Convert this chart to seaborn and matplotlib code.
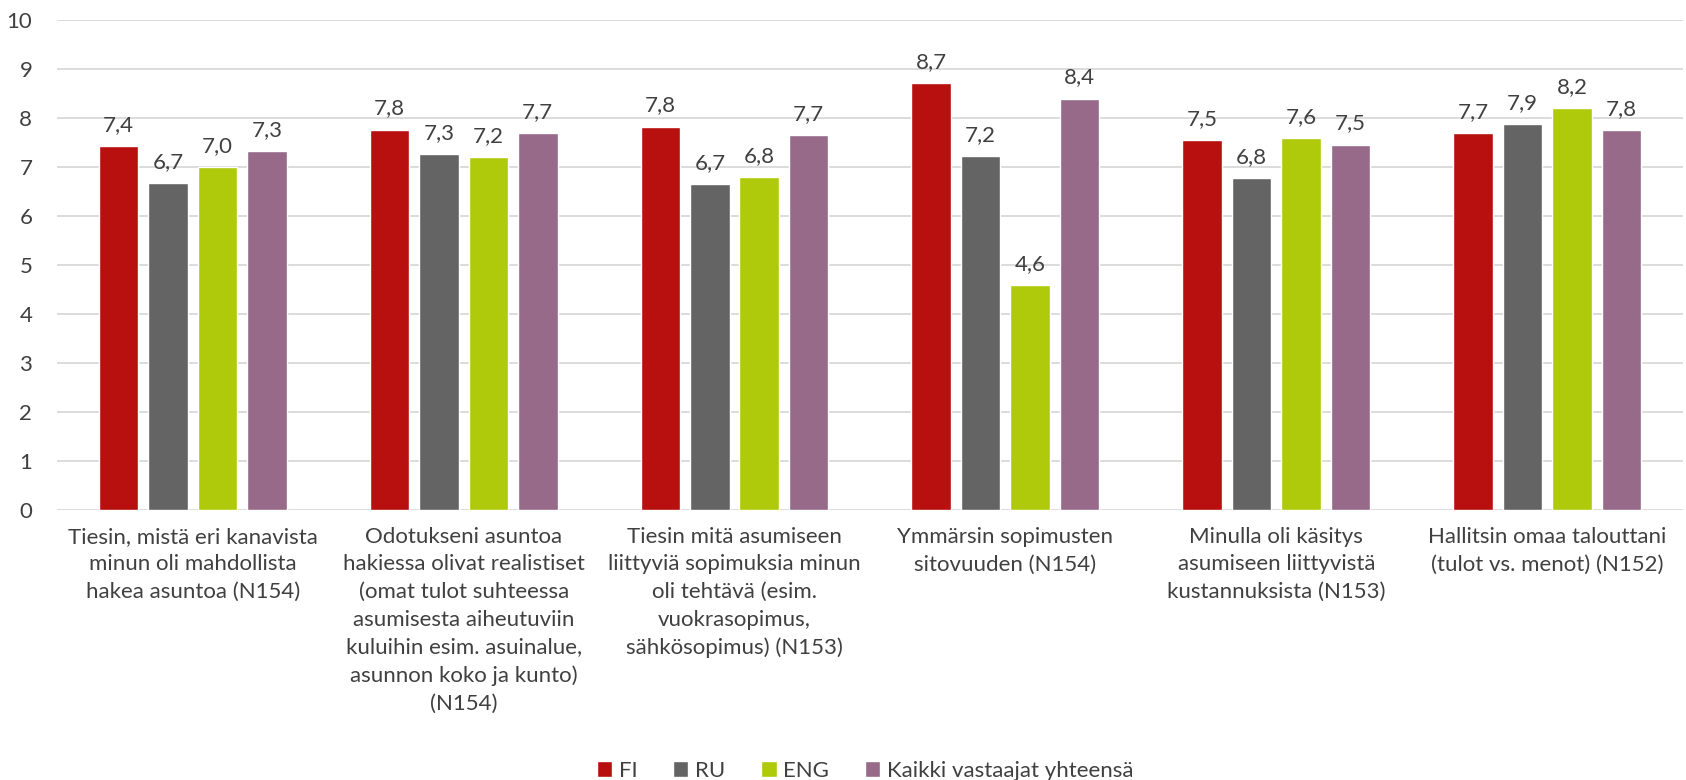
import seaborn as sns
import matplotlib.pyplot as plt
import pandas as pd

# Data
categories = [
    "Tiesin, mistä eri kanavista\nminun oli mahdollista\nhakea asuntoa (N154)",
    "Odotukseni asuntoa\nhakiessa olivat realistiset\n(omat tulot suhteessa\nasumisesta aiheutuviin\nkuluihin esim. asuinalue,\nasunnon koko ja kunto)\n(N154)",
    "Tiesin mitä asumiseen\nliittyviä sopimuksia minun\noli tehtävä (esim.\nvuokrasopimus,\nsähkösopimus) (N153)",
    "Ymmärsin sopimusten\nsitovuuden (N154)",
    "Minulla oli käsitys\nasumiseen liittyvistä\nkustannuksista (N153)",
    "Hallitsin omaa talouttani\n(tulot vs. menot) (N152)",
]
series = ["FI", "RU", "ENG", "Kaikki vastaajat yhteensä"]
fi = [7.43, 7.77, 7.83, 8.71, 7.55, 7.70]
ru = [6.67, 7.26, 6.66, 7.22, 6.78, 7.88]
eng = [7.00, 7.20, 6.80, 4.60, 7.59, 8.20]
kaikki = [7.33, 7.70, 7.66, 8.40, 7.46, 7.75]
colors = ["#B80F0F", "#646464", "#AFCA0A", "#966A88"]

rows = []
for name, vals in zip(series, [fi, ru, eng, kaikki]):
    for cat, v in zip(categories, vals):
        rows.append({"kategoria": cat, "ryhmä": name, "arvo": v})
df = pd.DataFrame(rows)

sns.set_style("white")
plt.rcParams['font.family'] = ['Lato', 'DejaVu Sans']
text_col = "#404040"
fs = 16

fig = plt.figure(figsize=(16.86, 7.8), dpi=100)
ax = fig.add_axes([0.034, 0.346, 0.964, 0.628])

sns.barplot(data=df, x="kategoria", y="arvo", hue="ryhmä", order=categories,
            hue_order=series, palette=colors, width=0.73, gap=0.2,
            saturation=1, errorbar=None, ax=ax)

# value labels with comma decimals
for cont, vals in zip(ax.containers, [fi, ru, eng, kaikki]):
    labels = [f"{v:.1f}".replace(".", ",") for v in vals]
    ax.bar_label(cont, labels=labels, padding=8, fontsize=fs, color=text_col)

ax.set_ylim(0, 10)
ax.set_yticks(range(0, 11))
ax.set_xlim(-0.5, 5.5)
ax.yaxis.grid(True, color="#D9D9D9", linewidth=1.3)
ax.set_axisbelow(True)
for s in ax.spines.values():
    s.set_visible(False)
ax.tick_params(axis="both", length=0, labelsize=fs, colors=text_col)
ax.tick_params(axis="y", pad=18)
ax.tick_params(axis="x", pad=12)
for t in ax.get_xticklabels():
    t.set_linespacing(1.48)
ax.set_xlabel("")
ax.set_ylabel("")

handles, labs = ax.get_legend_handles_labels()
ax.legend_.remove()
fig.legend(handles, labs, loc="lower center", bbox_to_anchor=(0.513, -0.004),
           ncol=4, frameon=False, fontsize=fs, handlelength=0.7,
           handleheight=0.7, handletextpad=0.3, columnspacing=1.6,
           borderaxespad=0.0, borderpad=0.1, labelcolor=text_col)

fig.savefig("out.png", dpi=100)
